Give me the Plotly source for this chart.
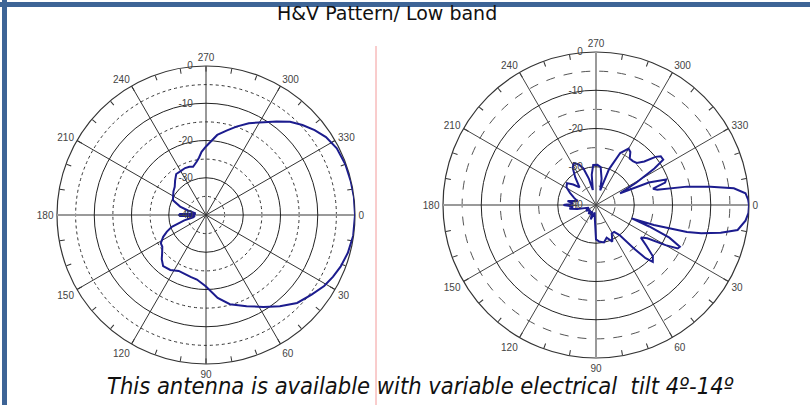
import plotly.graph_objects as go

# ---------------- data ----------------
ANGLE_LABELS = [0, 30, 60, 90, 120, 150, 180, 210, 240, 270, 300, 330]
RADIAL_TICKS = [-40, -30, -20, -10, 0]
RADIAL_TEXT = ["-40", "-30", "-20", "-10", "0"]
DOTTED_RINGS = [-35, -25, -15, -5]
MINOR_TICKS = list(range(0, 360, 10))

# Horizontal pattern (left)
H_THETA = [0, 8, 15, 21, 26, 31, 37, 44, 51, 58, 66, 75, 82, 90, 98, 104, 110, 116, 123, 130,
           135, 139, 144, 148, 153, 157, 161, 166, 170, 175, 178, 180, 182, 185, 190, 194, 198,
           204, 210, 216, 222, 228, 234, 240, 246, 251, 255, 260, 263, 266, 270, 278, 284, 289,
           295, 302, 307, 312, 317, 322, 327, 333, 340, 347, 353, 360]
H_DB = [0, -0.1, -0.6, -1.3, -2.1, -3, -4.5, -6, -8.5, -10.9, -13.2, -15.2, -17.5, -20.8, -22.5,
        -22.9, -23.2, -23.3, -22.4, -22.1, -23.2, -24.4, -25.5, -25.7, -27.1, -28.6, -30.3, -34,
        -36.5, -37, -33, -32.8, -33, -37, -37, -35, -32.7, -30.3, -29.8, -29.2, -28.7, -27.6,
        -26.4, -26.4, -26.2, -26.3, -26.6, -25.5, -24.5, -23, -21.6, -18.3, -16.6, -14.9, -12.8,
        -10.6, -8.6, -6.3, -4.6, -3, -1.6, -0.6, -0.2, -0.1, 0, 0]

# Vertical pattern (right)
V_THETA = [0, 3, 6, 10, 12.5, 15, 16.5, 19, 20.5, 22, 24, 26.5, 28, 30, 33, 36, 39, 42, 45, 47,
           49, 52, 56, 61, 66, 72, 78, 85, 90, 94, 100, 110, 120, 130, 140, 150, 160, 168, 172,
           176, 180, 184, 188, 192, 198, 205, 211, 217, 222, 227, 233, 238, 242, 247, 251, 255,
           258, 262, 266, 272, 277, 282, 286, 290, 295, 300, 303, 306, 310, 314, 318, 321, 323,
           326, 328, 331, 334, 337, 340, 342, 344, 346, 348.6, 350.9, 353.1, 355.5, 358, 360]
V_DB = [0, -0.1, -0.7, -2.4, -6.6, -11.5, -15.2, -24, -30, -25, -19, -15.5, -15.8, -19, -24,
        -25.5, -23, -20, -19, -21, -25, -30, -31.5, -31.5, -29.5, -31, -30, -30.4, -31, -36, -38,
        -36, -38, -37, -38, -37, -38, -35, -33, -34, -31.5, -34, -32.5, -35, -34, -32.5, -31,
        -30.5, -32, -33.7, -31, -28.5, -27.6, -28.5, -29.9, -33, -36, -32, -29.5, -29.5, -30,
        -33, -36, -30, -25, -23, -23.5, -25, -25, -24.7, -23, -20, -18.8, -18.8, -22, -28, -33,
        -25, -20.5, -21, -24.5, -23.5, -15.7, -9.7, -3.7, -0.8, -0.2, 0]

TITLE = "H&V Pattern/ Low band"
FOOTNOTE = "This antenna is available with variable electrical\u00a0 tilt 4\u00ba-14\u00ba"

# ---------------- layout helpers ----------------
W, H = 810, 405
TICKFONT = dict(family="Liberation Sans, Arial, sans-serif", size=10, color="#444444")
TRANSPARENT = "rgba(0,0,0,0)"
PAD = "\u00a0" * 4  # pushes the centred radial labels to the left of the spoke


def dom(cx, cy, r):
    return dict(x=[(cx - r) / W, (cx + r) / W], y=[1 - (cy + r) / H, 1 - (cy - r) / H])


def base_polar(d, ring_dash, ring_color):
    return dict(
        domain=d, bgcolor="white",
        angularaxis=dict(direction="clockwise", rotation=0, tickmode="array",
                         tickvals=MINOR_TICKS, showticklabels=False, ticks="inside",
                         ticklen=5, tickcolor="#333333", showgrid=False,
                         showline=True, linecolor="#333333", linewidth=1.2),
        radialaxis=dict(range=[-40, 0], tickmode="array", tickvals=DOTTED_RINGS,
                        showticklabels=False, ticks="", showgrid=True,
                        gridcolor=ring_color, griddash=ring_dash, gridwidth=1,
                        showline=False),
    )


def mid_polar(d, vals):
    return dict(
        domain=d, bgcolor=TRANSPARENT,
        angularaxis=dict(direction="clockwise", rotation=0, tickmode="array",
                         tickvals=vals, ticktext=[str(v) for v in vals], tickfont=TICKFONT,
                         ticks="outside", ticklen=1, tickcolor=TRANSPARENT,
                         showgrid=True, gridcolor="#9a9a9a", gridwidth=2,
                         showline=False),
        radialaxis=dict(range=[-40, 0], showgrid=False, showticklabels=False,
                        ticks="", showline=False),
    )


def top_polar(d, vals, spoke_color):
    return dict(
        domain=d, bgcolor=TRANSPARENT,
        angularaxis=dict(direction="clockwise", rotation=0, tickmode="array",
                         tickvals=vals, ticktext=[str(v) for v in vals], tickfont=TICKFONT,
                         ticks="outside", ticklen=1, tickcolor=TRANSPARENT,
                         showgrid=True, gridcolor=spoke_color, gridwidth=1,
                         showline=False),
        radialaxis=dict(range=[-40, 0], tickmode="array", tickvals=RADIAL_TICKS,
                        ticktext=[t + PAD for t in RADIAL_TEXT], tickfont=TICKFONT,
                        angle=90, tickangle=90,
                        side="counterclockwise", ticks="", showgrid=True,
                        gridcolor="#222222", gridwidth=1, showline=False),
    )


dL = dom(206, 215, 149)
dR = dom(596, 205, 153)

h_mid = [0, 180]
h_top = [a for a in ANGLE_LABELS if a not in h_mid]
v_mid = [0, 90, 180, 270]
v_top = [a for a in ANGLE_LABELS if a not in v_mid]

fig = go.Figure()
for sp in ["polar", "polar2", "polar4", "polar5"]:
    fig.add_trace(go.Scatterpolar(r=[], theta=[], subplot=sp, showlegend=False))

LINE = dict(color="#1c1c8e", width=2)
fig.add_trace(go.Scatterpolar(r=H_DB, theta=H_THETA, mode="lines", line=LINE,
                              subplot="polar3", showlegend=False, hoverinfo="skip"))
fig.add_trace(go.Scatterpolar(r=V_DB, theta=V_THETA, mode="lines", line=LINE,
                              subplot="polar6", showlegend=False, hoverinfo="skip"))

fig.update_layout(
    width=W, height=H, margin=dict(l=0, r=0, t=0, b=0),
    paper_bgcolor="white", showlegend=False,
    polar=base_polar(dL, "dot", "#333333"),
    polar2=mid_polar(dL, h_mid),
    polar3=top_polar(dL, h_top, "#333333"),
    polar4=base_polar(dR, "dash", "#555555"),
    polar5=mid_polar(dR, v_mid),
    polar6=top_polar(dR, v_top, "#444444"),
    shapes=[
        dict(type="line", xref="paper", yref="paper", x0=376 / W, x1=376 / W,
             y0=0, y1=1 - 46 / H, line=dict(color="#f39a9a", width=1)),
        dict(type="line", xref="paper", yref="paper", x0=0, x1=1,
             y0=1 - 4.5 / H, y1=1 - 4.5 / H, line=dict(color="#3d6496", width=5)),
        dict(type="line", xref="paper", yref="paper", x0=4.5 / W, x1=4.5 / W,
             y0=0, y1=1, line=dict(color="#3d6496", width=5)),
    ],
    annotations=[
        dict(text=TITLE, x=387 / W, y=1 - 13 / H, xref="paper", yref="paper",
             showarrow=False, xanchor="center", yanchor="middle",
             font=dict(family="DejaVu Sans, Verdana, sans-serif", size=19, color="#111111")),
        dict(text=FOOTNOTE, x=420 / W, y=1 - 386 / H, xref="paper", yref="paper",
             showarrow=False, xanchor="center", yanchor="middle",
             font=dict(family="Liberation Sans Narrow, DejaVu Sans Condensed, Open Sans, sans-serif",
                       size=23.5, color="#111111", style="italic")),
    ],
)

fig.write_html("out.html", config={"displayModeBar": False},
               post_script="document.body.style.margin='0';document.body.style.overflow='hidden';")
